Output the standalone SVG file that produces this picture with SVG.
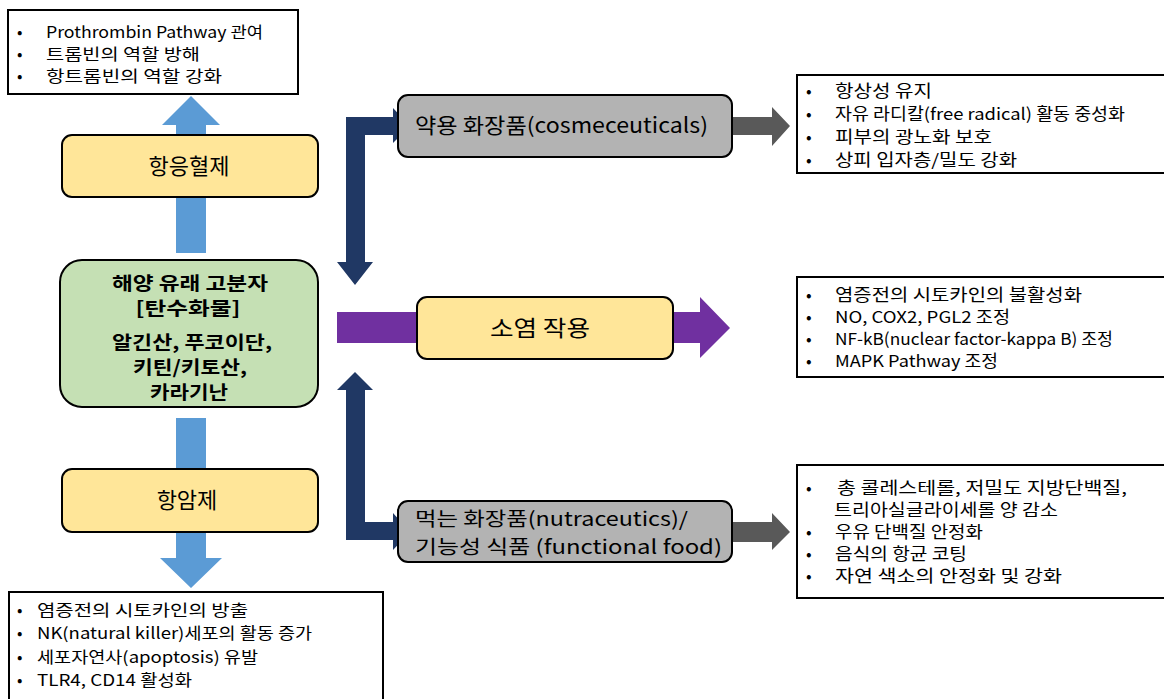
<svg xmlns="http://www.w3.org/2000/svg" width="1164" height="699" viewBox="0 0 1164 699">
<style>
text{font-family:"Noto Sans CJK KR","Noto Sans",sans-serif;fill:#000}
.list{fill:#fff;stroke:#000;stroke-width:2}
.yel{fill:#ffe699;stroke:#000;stroke-width:2}
.gry{fill:#b3b3b3;stroke:#000;stroke-width:2}
.grn{fill:#c5e0b4;stroke:#000;stroke-width:2}
.li{font-size:16px}
.ri{font-size:16.5px}
.lbl{font-size:22px;text-anchor:middle}
.gl{font-size:21px}
.gl2{font-size:19.5px}
.bold{font-size:18.5px;font-weight:bold;text-anchor:middle}
</style>
<rect width="1164" height="699" fill="#fff"/>
<g id="connectors">
<polygon fill="#5b9bd5" points="176,253 176,125 162,125 191,96 220,125 206,125 206,253"/>
<polygon fill="#5b9bd5" points="176,418 176,558 160,558 191,588 222,558 206,558 206,418"/>
<polygon fill="#203864" points="346,262 346,117 393,117 393,108 410,126 393,143 393,135 365,135 365,262 373,262 355,285 337,262"/>
<polygon fill="#203864" points="346,390 337,390 355,372 373,390 365,390 365,522 393,522 393,513 410,532 393,550 393,540 346,540"/>
<polygon fill="#7030a0" points="337,312 700,312 700,297 730,328 700,358 700,343 337,343"/>
<polygon fill="#595959" points="732,117 772,117 772,107 790,126 772,146 772,135 732,135"/>
<polygon fill="#595959" points="732,522 772,522 772,513 790,532 772,550 772,542 732,542"/>
</g>
<g id="box-anticoag-list">
<rect class="list" x="8" y="10" width="290" height="84"/>
<text class="li" x="17" y="38">•</text><text class="li" x="46" y="38" textLength="217" lengthAdjust="spacingAndGlyphs">Prothrombin Pathway 관여</text>
<text class="li" x="17" y="60">•</text><text class="li" x="46" y="60" textLength="154" lengthAdjust="spacingAndGlyphs">트롬빈의 역할 방해</text>
<text class="li" x="17" y="82">•</text><text class="li" x="46" y="82" textLength="176" lengthAdjust="spacingAndGlyphs">항트롬빈의 역할 강화</text>
</g>
<g id="node-anticoag">
<rect class="yel" x="62" y="135" width="256" height="62" rx="10"/>
<text class="lbl" x="189" y="174">항응혈제</text>
</g>
<g id="node-source">
<rect class="grn" x="60" y="260" width="258" height="147" rx="22"/>
<text class="bold" x="190" y="290" textLength="156" lengthAdjust="spacingAndGlyphs">해양 유래 고분자</text>
<text class="bold" x="188" y="315" textLength="105" lengthAdjust="spacingAndGlyphs">[탄수화물]</text>
<text class="bold" x="192" y="349" textLength="160" lengthAdjust="spacingAndGlyphs">알긴산, 푸코이단,</text>
<text class="bold" x="190" y="374" textLength="114" lengthAdjust="spacingAndGlyphs">키틴/키토산,</text>
<text class="bold" x="189" y="399" textLength="78" lengthAdjust="spacingAndGlyphs">카라기난</text>
</g>
<g id="node-anticancer">
<rect class="yel" x="62" y="469" width="256" height="63" rx="10"/>
<text class="lbl" x="187" y="508">항암제</text>
</g>
<g id="box-anticancer-list">
<rect class="list" x="9" y="592" width="374" height="120"/>
<text class="li" x="17" y="616">•</text><text class="li" x="37" y="616" textLength="211" lengthAdjust="spacingAndGlyphs">염증전의 시토카인의 방출</text>
<text class="li" x="17" y="639">•</text><text class="li" x="37" y="639" textLength="275" lengthAdjust="spacingAndGlyphs">NK(natural killer)세포의 활동 증가</text>
<text class="li" x="17" y="663">•</text><text class="li" x="37" y="663" textLength="221" lengthAdjust="spacingAndGlyphs">세포자연사(apoptosis) 유발</text>
<text class="li" x="17" y="686">•</text><text class="li" x="37" y="686" textLength="155" lengthAdjust="spacingAndGlyphs">TLR4, CD14 활성화</text>
</g>
<g id="node-cosmeceuticals">
<rect class="gry" x="398" y="95" width="334" height="62" rx="10"/>
<text class="gl" x="415" y="133" textLength="293" lengthAdjust="spacingAndGlyphs">약용 화장품(cosmeceuticals)</text>
</g>
<g id="node-antiinflam">
<rect class="yel" x="417" y="297" width="256" height="62" rx="10"/>
<text class="lbl" x="540" y="336" textLength="100" lengthAdjust="spacingAndGlyphs">소염 작용</text>
</g>
<g id="node-nutra">
<rect class="gry" x="398" y="501" width="334" height="61" rx="10"/>
<text class="gl2" x="415" y="526" textLength="273" lengthAdjust="spacingAndGlyphs">먹는 화장품(nutraceutics)/</text>
<text class="gl2" x="415" y="554" textLength="307" lengthAdjust="spacingAndGlyphs">기능성 식품 (functional food)</text>
</g>
<g id="box-cosme-list">
<rect class="list" x="797" y="75" width="380" height="98"/>
<text class="ri" x="806" y="97">•</text><text class="ri" x="835" y="97" textLength="97" lengthAdjust="spacingAndGlyphs">항상성 유지</text>
<text class="ri" x="806" y="120">•</text><text class="ri" x="835" y="120" textLength="290" lengthAdjust="spacingAndGlyphs">자유 라디칼(free radical) 활동 중성화</text>
<text class="ri" x="806" y="143">•</text><text class="ri" x="835" y="143" textLength="157" lengthAdjust="spacingAndGlyphs">피부의 광노화 보호</text>
<text class="ri" x="806" y="166">•</text><text class="ri" x="835" y="166" textLength="182" lengthAdjust="spacingAndGlyphs">상피 입자층/밀도 강화</text>
</g>
<g id="box-inflam-list">
<rect class="list" x="797" y="277" width="380" height="100"/>
<text class="ri" x="806" y="301">•</text><text class="ri" x="835" y="301" textLength="247" lengthAdjust="spacingAndGlyphs">염증전의 시토카인의 불활성화</text>
<text class="ri" x="806" y="323">•</text><text class="ri" x="835" y="323" textLength="175" lengthAdjust="spacingAndGlyphs">NO, COX2, PGL2 조정</text>
<text class="ri" x="806" y="345">•</text><text class="ri" x="835" y="345" textLength="278" lengthAdjust="spacingAndGlyphs">NF-kB(nuclear factor-kappa B) 조정</text>
<text class="ri" x="806" y="367">•</text><text class="ri" x="835" y="367" textLength="163" lengthAdjust="spacingAndGlyphs">MAPK Pathway 조정</text>
</g>
<g id="box-nutra-list">
<rect class="list" x="797" y="465" width="380" height="133"/>
<text class="ri" x="806" y="494">•</text><text class="ri" x="837" y="494" textLength="290" lengthAdjust="spacingAndGlyphs">총 콜레스테롤, 저밀도 지방단백질,</text>
<text class="ri" x="834" y="516" textLength="224" lengthAdjust="spacingAndGlyphs">트리아실글라이세롤 양 감소</text>
<text class="ri" x="806" y="538">•</text><text class="ri" x="835" y="538" textLength="148" lengthAdjust="spacingAndGlyphs">우유 단백질 안정화</text>
<text class="ri" x="806" y="560">•</text><text class="ri" x="835" y="560" textLength="132" lengthAdjust="spacingAndGlyphs">음식의 항균 코팅</text>
<text class="ri" x="806" y="582">•</text><text class="ri" x="835" y="582" textLength="227" lengthAdjust="spacingAndGlyphs">자연 색소의 안정화 및 강화</text>
</g>
</svg>
